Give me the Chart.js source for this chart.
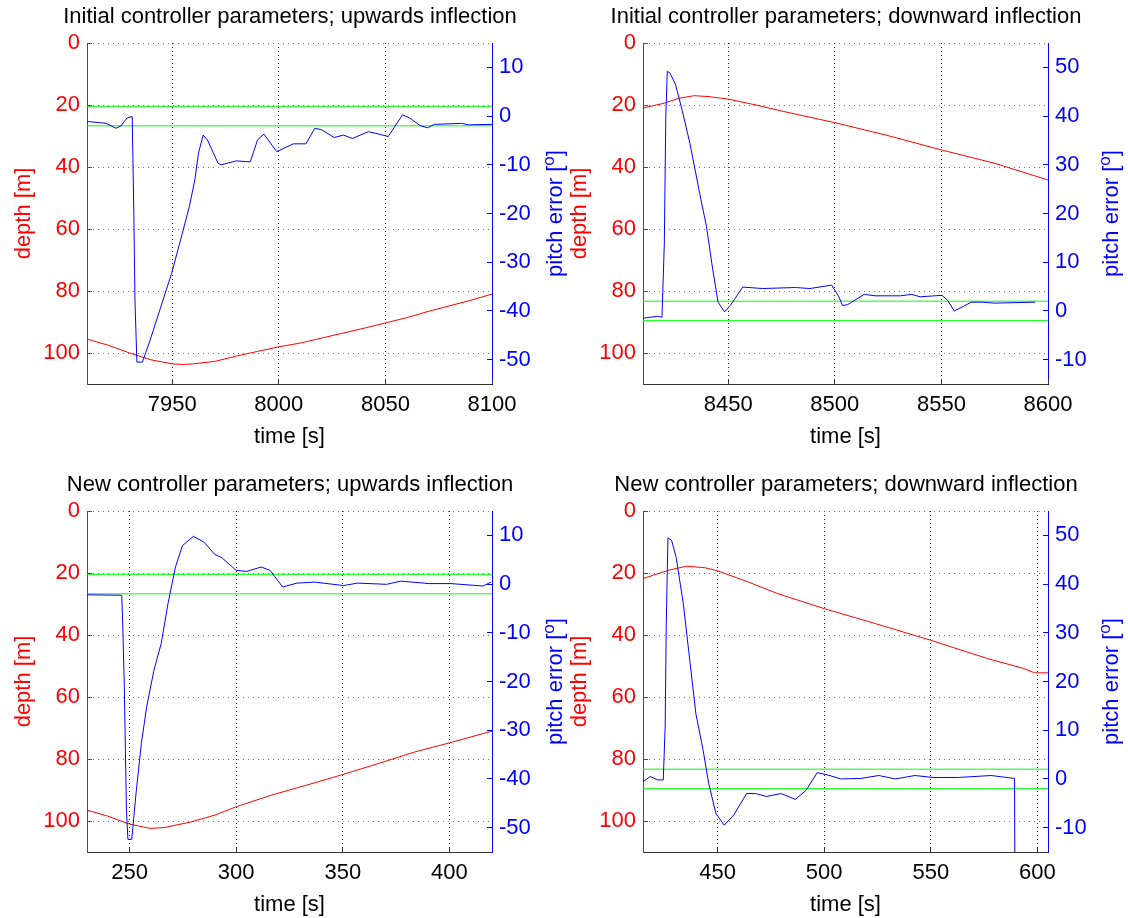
<!DOCTYPE html>
<html>
<head>
<meta charset="utf-8">
<script src="https://cdn.jsdelivr.net/npm/chart.js@4.4.0/dist/chart.umd.min.js"></script>
<style>
  body { margin: 0; background: #fff; width: 1128px; height: 918px; overflow: hidden; position: relative; }
  canvas { position: absolute; }
</style>
</head>
<body>
<canvas id="p1" width="580" height="459" style="left:0;top:0"></canvas>
<canvas id="p2" width="580" height="459" style="left:556px;top:0"></canvas>
<canvas id="p3" width="580" height="459" style="left:0;top:468px"></canvas>
<canvas id="p4" width="580" height="459" style="left:556px;top:468px"></canvas>
<script>
// ---- data ----
const depthTicks = [0, 20, 40, 60, 80, 100];
const pitchLimits = [-2, 2];

// initial parameters, upwards inflection
const xTicks1 = [7950, 8000, 8050, 8100];
const pitchTicks1 = [-50, -40, -30, -20, -10, 0, 10];
const depthT1 = [7910, 7920, 7930, 7940, 7950, 7955, 7960, 7970, 7980, 7990, 8000, 8010, 8020, 8030, 8040, 8050, 8060, 8070, 8080, 8090, 8100];
const depth1 = [95.5, 97.5, 100, 102.2, 103.5, 103.7, 103.5, 102.7, 101, 99.5, 98.0, 96.8, 95.2, 93.6, 92.0, 90.3, 88.6, 86.6, 84.8, 83.0, 81.0];
const pitchT1 = [7910, 7919, 7923.6, 7926, 7928.7, 7931.2, 7932, 7932.5, 7933.4, 7936, 7939.6, 7944.6, 7949.7, 7954.7, 7958, 7960.6, 7962.3, 7964.5, 7966.5, 7971.5, 7973, 7980, 7986.6, 7990, 7993, 7999, 8006.8, 8012.7, 8016.9, 8020, 8026, 8030.3, 8034.5, 8042, 8047, 8051.3, 8058, 8061.4, 8066.4, 8069.8, 8073, 8085.8, 8089, 8100];
const pitch1 = [-1.1, -1.5, -2.5, -2, -0.4, -0.1, -20.7, -37.8, -50.5, -50.5, -46, -39.2, -32.3, -24.1, -18.6, -13.1, -7.6, -3.9, -4.9, -9.7, -10, -9.2, -9.4, -4.9, -3.7, -7.3, -5.7, -5.7, -2.5, -2.8, -4.4, -3.9, -4.6, -3.2, -3.7, -4.2, 0.25, -0.4, -2, -2.4, -1.7, -1.5, -1.8, -1.7];

// initial parameters, downward inflection
const xTicks2 = [8450, 8500, 8550, 8600];
const pitchTicks2 = [-10, 0, 10, 20, 30, 40, 50];
const depthT2 = [8410, 8420, 8427, 8434, 8441, 8450, 8463, 8476, 8500, 8524, 8550, 8575, 8600];
const depth2 = [21, 19.4, 17.8, 17.0, 17.3, 18.1, 20, 22.1, 25.7, 29.7, 34.5, 38.8, 44.2];
const pitchT2 = [8410, 8416.8, 8418.9, 8420, 8420.7, 8421.4, 8422.7, 8425.3, 8428.7, 8432, 8437.2, 8439.8, 8442.3, 8445.2, 8448.3, 8450.9, 8456.8, 8466, 8481.5, 8488.3, 8498.5, 8501.9, 8503.6, 8506, 8513.8, 8518.9, 8530.8, 8536, 8540, 8550.3, 8552.9, 8556, 8559.7, 8564, 8569, 8575, 8594];
const pitch2 = [-1.5, -1.1, -1.3, 13.8, 39.9, 49.2, 48.8, 46.4, 40.6, 34.4, 22.8, 17.3, 9.7, 1.8, -0.2, 1.1, 4.9, 4.6, 4.8, 4.6, 5.3, 2.9, 1.1, 1.3, 3.4, 3.1, 3.1, 3.4, 2.9, 3.2, 2.2, 0, 0.8, 1.8, 1.8, 1.6, 1.8];

// new parameters, upwards inflection
const xTicks3 = [250, 300, 350, 400];
const pitchTicks3 = [-50, -40, -30, -20, -10, 0, 10];
const depthT3 = [230, 239.6, 250, 259.7, 266.4, 278.2, 290, 300, 316.8, 333.2, 350, 367, 383.9, 400, 420];
const depth3 = [96.5, 98.4, 101, 102.4, 102.1, 100.4, 98.1, 95.4, 91.6, 88.4, 85, 81.4, 77.7, 74.8, 71];
const pitchT3 = [230, 246.3, 246.8, 247.5, 248, 248.5, 249.2, 251, 253, 255.5, 258, 261.4, 264.8, 268, 271.5, 274.8, 279.9, 284.9, 289.9, 293.3, 300, 305, 311.7, 315.9, 321.8, 328.5, 336.9, 350.3, 357, 370.5, 377.2, 390.6, 400.7, 415.8, 419.5];
const pitch3 = [-2.2, -2.3, -8.8, -21, -33.7, -46.4, -52.4, -52.4, -43, -32.7, -25.2, -17.7, -12.2, -4, 3.5, 7.9, 9.8, 8.6, 6.1, 5.4, 2.8, 2.6, 3.5, 2.8, -0.6, 0.2, 0.4, -0.3, 0.2, -0.05, 0.6, 0.1, 0.1, -0.4, 0.4];

// new parameters, downward inflection
const xTicks4 = [450, 500, 550, 600];
const pitchTicks4 = [-10, 0, 10, 20, 30, 40, 50];
const depthT4 = [415, 427, 435.6, 444, 450, 464.4, 478, 500, 523.9, 550, 576.6, 593.6, 598.7, 605];
const depth4 = [21.8, 19.1, 17.8, 18.3, 19.3, 22.9, 26.6, 31.5, 36.3, 41.7, 47.6, 50.8, 52.2, 52.2];
const pitchT4 = [415, 418.4, 421.9, 424.5, 425.4, 425.9, 426.7, 428.4, 430.5, 433.9, 437.3, 439.8, 443.2, 445.8, 449.2, 453.1, 457.6, 463.6, 467.8, 472.9, 479.7, 486.5, 491.6, 496.7, 501.8, 507.8, 517.1, 525.6, 533.3, 542.6, 551.1, 563, 578.3, 589.3, 589.8];
const pitch4 = [-0.6, 0.5, -0.2, -0.2, 10.7, 31.2, 49.5, 49, 45.6, 36, 23, 13.4, 5.9, -0.9, -7.1, -9.5, -7.4, -3, -3, -3.6, -3, -4.2, -2.3, 1.3, 0.8, 0, 0.1, 0.7, 0, 0.7, 0.3, 0.3, 0.7, 0.1, -60];

const FAMILY = '"Liberation Sans", Arial, sans-serif';
const font = { family: FAMILY, size: 22 };

const px = v => Math.round(v - 0.5) + 0.5;

// inward tick marks + right axis title (reads bottom to top, like matlab)
const extras = {
  id: 'extras',
  afterDraw(chart) {
    const { ctx, chartArea: a } = chart;
    const x = chart.scales.x, d = chart.scales.depth, p = chart.scales.pitch;
    ctx.save();
    ctx.lineWidth = 1;
    ctx.strokeStyle = '#0000ff';
    p.ticks.forEach(t => {
      const y = px(p.getPixelForValue(t.value));
      ctx.beginPath(); ctx.moveTo(a.right - 5, y); ctx.lineTo(a.right, y); ctx.stroke();
    });
    ctx.strokeStyle = '#ff0000';
    d.ticks.forEach(t => {
      const y = px(d.getPixelForValue(t.value));
      ctx.beginPath(); ctx.moveTo(a.left, y); ctx.lineTo(a.left + 5, y); ctx.stroke();
    });
    ctx.strokeStyle = '#333';
    x.ticks.forEach(t => {
      const xx = px(x.getPixelForValue(t.value));
      ctx.beginPath(); ctx.moveTo(xx, a.bottom); ctx.lineTo(xx, a.bottom - 5); ctx.stroke();
    });

    ctx.translate(a.right, (a.top + a.bottom) / 2);
    ctx.rotate(-Math.PI / 2);
    ctx.fillStyle = '#0000ff';
    ctx.textAlign = 'left';
    ctx.textBaseline = 'alphabetic';
    const big = '22px ' + FAMILY, small = '17px ' + FAMILY;
    ctx.font = big;
    const w1 = ctx.measureText('pitch error [').width;
    const w3 = ctx.measureText(']').width;
    ctx.font = small;
    const w2 = ctx.measureText('o').width;
    const sx = -(w1 + w2 + w3) / 2, base = 69.5;
    ctx.font = big; ctx.fillText('pitch error [', sx, base);
    ctx.font = small; ctx.fillText('o', sx + w1, base - 8);
    ctx.font = big; ctx.fillText(']', sx + w1 + w2, base);
    ctx.restore();
  }
};

const pts = (t, v) => t.map((x, i) => ({ x, y: v[i] }));
const useTicks = arr => s => { s.ticks = arr.map(v => ({ value: v })); };

function panel(id, title, xMin, xMax, xTicks, depthT, depth, pitchT, pitch, pMin, pMax, pTicks) {
  new Chart(document.getElementById(id), {
    type: 'line',
    data: {
      datasets: [
        { data: pts(pitchT, pitch), yAxisID: 'pitch', borderColor: '#0000ff', order: 0 },
        { data: pts([xMin, xMax], [pitchLimits[1], pitchLimits[1]]), yAxisID: 'pitch', borderColor: '#00ff00', order: 1 },
        { data: pts([xMin, xMax], [pitchLimits[0], pitchLimits[0]]), yAxisID: 'pitch', borderColor: '#00ff00', order: 2 },
        { data: pts(depthT, depth), yAxisID: 'depth', borderColor: '#ff0000', order: 3 }
      ]
    },
    options: {
      responsive: false,
      animation: false,
      events: [],
      elements: { point: { radius: 0 }, line: { borderWidth: 1, tension: 0 } },
      layout: { padding: 0 },
      plugins: {
        legend: { display: false },
        tooltip: { enabled: false },
        title: {
          display: true, text: title, color: '#000',
          font: { family: FAMILY, size: 22, weight: 'normal' },
          padding: { top: 3.8, bottom: 12.8 }
        }
      },
      scales: {
        x: {
          type: 'linear', position: 'bottom', min: xMin, max: xMax,
          afterBuildTicks: useTicks(xTicks),
          afterFit: s => { s.height = 75; },
          ticks: { color: '#000', font, padding: 8, maxRotation: 0, autoSkip: false, callback: v => v },
          grid: { color: 'rgba(0,0,0,0.85)', drawTicks: false },
          border: { color: '#333', dash: [1, 3] },
          title: { display: true, text: 'time [s]', color: '#000', font, padding: { top: 0, bottom: 8.8 } }
        },
        depth: {
          type: 'linear', position: 'left', reverse: true, min: 0, max: 110,
          afterBuildTicks: useTicks(depthTicks),
          afterFit: s => { s.width = 87; },
          ticks: { color: '#ff0000', font, padding: 7, autoSkip: false, callback: v => v },
          grid: { color: 'rgba(255,0,0,0.75)', drawTicks: false },
          border: { color: '#ff0000', dash: [1, 4] },
          title: { display: true, text: 'depth [m]', color: '#ff0000', font, padding: { top: 10.5, bottom: 0 } }
        },
        pitch: {
          type: 'linear', position: 'right', min: pMin, max: pMax,
          afterBuildTicks: useTicks(pTicks),
          afterFit: s => { s.width = 88; },
          ticks: { color: '#0000ff', font, padding: 7, autoSkip: false, callback: v => v },
          grid: { display: false, drawTicks: false },
          border: { color: '#0000ff' }
        }
      }
    },
    plugins: [extras]
  });
}

panel('p1', 'Initial controller parameters; upwards inflection', 7910, 8100, xTicks1, depthT1, depth1, pitchT1, pitch1, -55, 15, pitchTicks1);
panel('p2', 'Initial controller parameters; downward inflection', 8410, 8600, xTicks2, depthT2, depth2, pitchT2, pitch2, -15, 55, pitchTicks2);
panel('p3', 'New controller parameters; upwards inflection', 230, 420, xTicks3, depthT3, depth3, pitchT3, pitch3, -55, 15, pitchTicks3);
panel('p4', 'New controller parameters; downward inflection', 415, 605, xTicks4, depthT4, depth4, pitchT4, pitch4, -15, 55, pitchTicks4);
</script>
</body>
</html>
